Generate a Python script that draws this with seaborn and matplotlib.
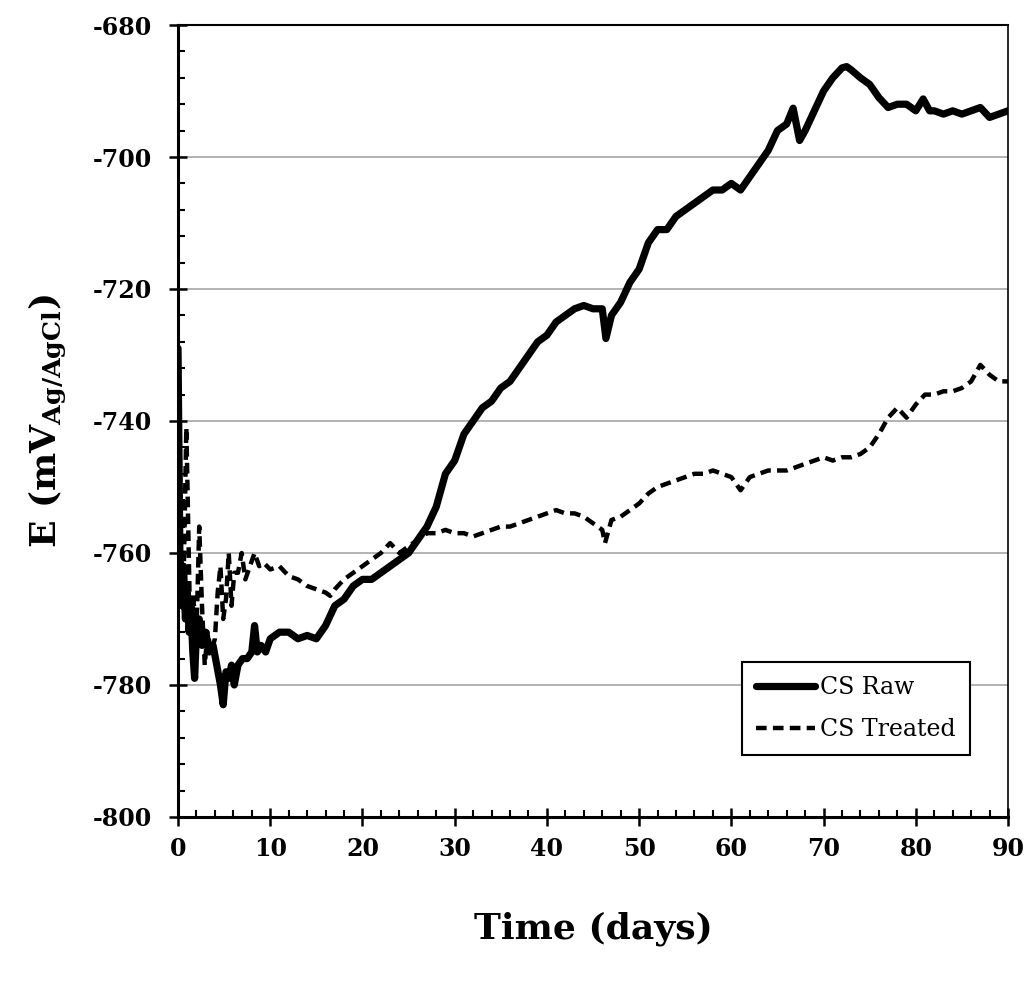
import matplotlib
matplotlib.use('Agg')
import matplotlib.pyplot as plt
from matplotlib.ticker import MultipleLocator
import seaborn as sns
import pandas as pd

# CS Raw (solid)
days_raw = [0, 0.2, 0.4, 0.6, 0.8, 1.0, 1.2, 1.4, 1.6, 1.8, 2.0, 2.3, 2.6, 3.0, 3.4, 3.8,
            4.2, 4.6, 4.9, 5.2, 5.5, 5.8, 6.1, 6.5, 7.0, 7.5, 8.0, 8.3, 8.6, 9.0, 9.5, 10,
            11, 12, 13, 14, 15, 16, 17, 18, 19, 20, 21, 22, 23, 24, 25, 26, 27, 28, 29,
            30, 31, 32, 33, 34, 35, 36, 37, 38, 39, 40, 41, 42, 43, 44, 45, 46, 46.4, 47,
            48, 49, 50, 51, 52, 53, 54, 55, 56, 57, 58, 59, 60, 61, 62, 63, 64, 65, 66,
            66.7, 67.4, 68, 69, 70, 71, 72, 72.5, 73, 74, 75, 76, 77, 78, 79, 80, 80.8,
            81.5, 82, 83, 84, 85, 86, 87, 88, 89, 90]
e_raw = [-729, -760, -768, -762, -770, -766, -772, -768, -775, -779, -772, -770, -774, -772, -775, -774,
         -777, -780, -783, -778, -779, -777, -780, -777, -776, -776, -775, -771, -775, -774, -775, -773,
         -772, -772, -773, -772.5, -773, -771, -768, -767, -765, -764, -764, -763, -762, -761, -760, -758, -756, -753, -748,
         -746, -742, -740, -738, -737, -735, -734, -732, -730, -728, -727, -725, -724, -723, -722.5, -723, -723, -727.5, -724,
         -722, -719, -717, -713, -711, -711, -709, -708, -707, -706, -705, -705, -704, -705, -703, -701, -699, -696, -695,
         -692.6, -697.5, -696, -693, -690, -688, -686.5, -686.3, -686.8, -688, -689, -691, -692.5, -692, -692, -693, -691.2,
         -693, -693, -693.5, -693, -693.5, -693, -692.5, -694, -693.5, -693]

# CS Treated (dashed)
days_trt = [0, 0.3, 0.6, 0.9, 1.0, 1.3, 1.6, 2.0, 2.3, 2.6, 2.9, 3.2, 3.6, 4.0, 4.3, 4.6, 4.9,
            5.2, 5.5, 5.8, 6.1, 6.5, 6.9, 7.3, 7.8, 8.3, 8.8, 9.3, 10, 11, 12, 13, 14, 15, 16,
            16.5, 17, 18, 19, 20, 21, 22, 23, 24, 25, 26, 27, 28, 29, 30, 31, 32, 33, 34, 35,
            36, 37, 38, 39, 40, 41, 42, 43, 44, 45, 46, 46.3, 47, 48, 49, 50, 51, 52, 53, 54,
            55, 56, 57, 58, 59, 60, 61, 62, 63, 64, 65, 66, 67, 68, 69, 70, 71, 72, 73, 74,
            75, 76, 77, 78, 79, 80, 81, 82, 83, 84, 85, 86, 87, 88, 89, 90]
e_trt = [-762, -768, -765, -741, -748, -770, -766, -772, -756, -768, -777, -772, -775, -773, -766, -762, -770,
         -767, -760, -768, -763, -763, -760, -764, -762, -760, -762, -761.5, -762.5, -762, -763.5, -764, -765, -765.5, -766,
         -766.5, -765.5, -764, -763, -762, -761, -760, -758.5, -760, -759, -758, -757, -757, -756.5, -757, -757, -757.5, -757, -756.5, -756,
         -756, -755.5, -755, -754.5, -754, -753.5, -754, -754, -754.5, -755.5, -756.5, -758.5, -755, -754.5, -753.5, -752.5, -751, -750, -749.5, -749,
         -748.5, -748, -748, -747.5, -748, -748.5, -750.5, -748.5, -748, -747.5, -747.5, -747.5, -747, -746.5, -746, -745.5, -746, -745.5, -745.5, -745,
         -744, -742, -739.5, -738, -739.5, -737.5, -736, -736, -735.5, -735.5, -735, -734, -731.5, -733, -734, -734]

raw = pd.DataFrame({'Time': days_raw, 'E': e_raw})
trt = pd.DataFrame({'Time': days_trt, 'E': e_trt})

sns.set_theme(style='white')
plt.rcParams['font.family'] = ['DejaVu Serif']
plt.rcParams['mathtext.fontset'] = 'dejavuserif'
plt.rcParams['axes.unicode_minus'] = False
plt.rcParams['text.color'] = 'black'
plt.rcParams['axes.labelcolor'] = 'black'
plt.rcParams['xtick.color'] = 'black'
plt.rcParams['ytick.color'] = 'black'

fig = plt.figure(figsize=(10.29, 9.85), dpi=100)
ax = fig.add_axes([0.173, 0.1706, 0.8066, 0.804])

sns.lineplot(data=raw, x='Time', y='E', color='black', lw=5.2, label='CS Raw', ax=ax)
sns.lineplot(data=trt, x='Time', y='E', color='black', lw=3.2, linestyle=(0, (2.4, 1.4)),
             label='CS Treated', ax=ax)

ax.set_xlim(0, 90)
ax.set_ylim(-800, -680)
ax.xaxis.set_major_locator(MultipleLocator(10))
ax.xaxis.set_minor_locator(MultipleLocator(2))
ax.yaxis.set_major_locator(MultipleLocator(20))
ax.yaxis.set_minor_locator(MultipleLocator(4))

ax.grid(True, axis='y', which='major', color='#a6a6a6', lw=1.2)
ax.set_axisbelow(True)

ax.tick_params(axis='both', which='major', direction='inout', length=13, width=1.8,
               labelsize=17, color='black', labelcolor='black')
ax.tick_params(axis='y', which='major', pad=12)
ax.tick_params(axis='x', which='major', pad=8)
ax.tick_params(axis='both', which='minor', direction='in', length=5, width=1.5, color='black')
ax.tick_params(axis='x', which='both', bottom=True, top=False)
ax.tick_params(axis='y', which='both', left=True, right=False)
for lab in ax.get_xticklabels() + ax.get_yticklabels():
    lab.set_fontweight('bold')

ax.spines['left'].set_linewidth(2.2)
ax.spines['bottom'].set_linewidth(2.2)
ax.spines['top'].set_linewidth(1.5)
ax.spines['right'].set_linewidth(1.2)
for s in ax.spines.values():
    s.set_color('black')

ax.set_xlabel('Time (days)', fontsize=26, fontweight='bold', labelpad=36)
ax.set_ylabel(r'E (mV$_{\mathbf{Ag/AgCl}}$)', fontsize=26, fontweight='bold', labelpad=18)

leg = ax.legend(loc='lower right', bbox_to_anchor=(0.954, 0.078), borderaxespad=0,
                fontsize=17, frameon=True, fancybox=False, handlelength=2.5,
                handletextpad=0.2, labelspacing=0.8, borderpad=0.6)
leg.get_frame().set_edgecolor('black')
leg.get_frame().set_linewidth(1.5)
leg.get_frame().set_alpha(1)

fig.savefig('out.png', dpi=100, facecolor='white')
